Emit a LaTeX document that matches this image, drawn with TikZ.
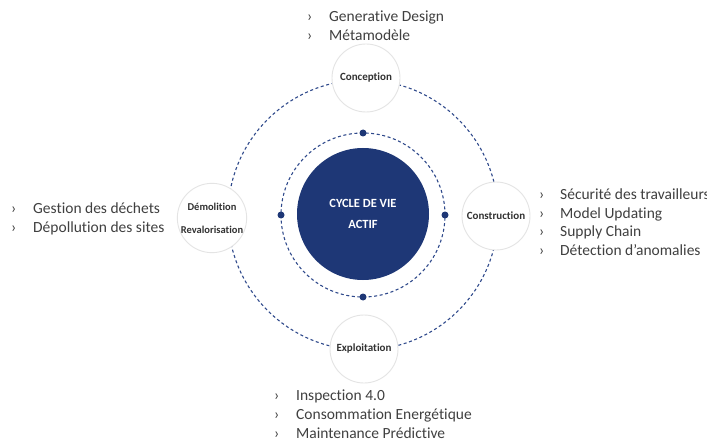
\documentclass[tikz,border=0pt]{standalone}
\usepackage{fontspec}
\setmainfont{Carlito}[Ligatures=CommonOff]
\definecolor{navy}{RGB}{30,55,118}
\definecolor{ringc}{RGB}{48,74,140}
\definecolor{txt}{RGB}{64,64,64}
\definecolor{labc}{RGB}{50,50,50}
\definecolor{satb}{RGB}{228,228,228}
\begin{document}
\begin{tikzpicture}[x=1pt,y=-1pt,
  ring/.style={draw=ringc, line width=1.1pt, dash pattern=on 3pt off 2.6pt},
  sat/.style={circle, draw=satb, fill=white, line width=0.9pt, minimum size=68pt, inner sep=0pt,
    font=\fontsize{11}{23}\selectfont\bfseries, text=labc, align=center},
  hub/.style={circle, fill=navy, minimum size=132pt, inner sep=0pt,
    font=\fontsize{12.5}{21}\selectfont\bfseries, text=white, align=center},
  dot/.style={circle, fill=navy, minimum size=7pt, inner sep=0pt},
  blist/.style={anchor=base west, inner sep=0pt, font=\fontsize{15.5}{19}\selectfont, text=txt}
]
\useasboundingbox (0,0) rectangle (707,441);
\clip (0,0) rectangle (707,441);
\fill[white] (0,0) rectangle (707,441);

\coordinate (c) at (363,215);
% rings
\draw[ring] (c) circle[radius=135pt];
\draw[ring] (c) circle[radius=82pt];

% hub
\node[hub] (hub) at (363,214) {CYCLE DE VIE\\ACTIF};

% dots on inner ring
\node[dot] (dt) at (363,133) {};
\node[dot] (db) at (363,297) {};
\node[dot] (dl) at (281,215) {};
\node[dot] (dr) at (445,215) {};

% satellites
\node[sat] (concep) at (366,78) {Conception};
\node[sat] (constr) at (496,216) {Construction};
\node[sat] (exploi) at (364,349) {Exploitation};
\node[sat, font=\fontsize{10.5}{23}\selectfont\bfseries] (demol) at (212,218) {Démolition\\Revalorisation};

% bullet lists
\node[blist] (ltop) at (307,22) {\begin{tabular}[t]{@{}p{22pt}@{}l@{}}› & Generative Design\\ › & Métamodèle\end{tabular}};
\node[blist] (lright) at (539,199) {\begin{tabular}[t]{@{}p{21pt}@{}l@{}}› & Sécurité des travailleurs\\ › & Model Updating\\ › & Supply Chain\\ › & Détection d’anomalies\end{tabular}};
\node[blist] (lleft) at (11,213) {\begin{tabular}[t]{@{}p{22pt}@{}l@{}}› & Gestion des déchets\\ › & Dépollution des sites\end{tabular}};
\node[blist] (lbot) at (274,400) {\begin{tabular}[t]{@{}p{22pt}@{}l@{}}› & Inspection 4.0\\ › & Consommation Energétique\\ › & Maintenance Prédictive\end{tabular}};
\end{tikzpicture}
\end{document}
